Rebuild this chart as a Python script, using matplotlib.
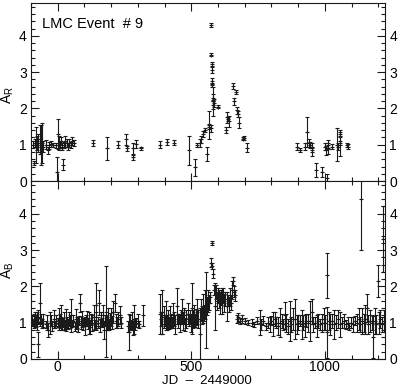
import matplotlib
matplotlib.use("Agg")
import matplotlib.pyplot as plt
from matplotlib.ticker import MultipleLocator

# --- R band (upper panel): JD - 2449000, amplification, error ---
jd_r = [-92, -88, -85, -82, -79, -76, -72, -68, -64, -60, -56, -45, -38, -32,
        -25, -18, -8, -2, 0, 4, 8, 12, 16, 20, 22, 28, 33, 38, 44, 50, 55, 62,
        132, 183, 225, 255, 258, 280, 283, 292, 311, 382, 410, 435,
        491, 513, 520, 532, 538, 543, 550, 558, 565, 568, 572, 573, 575,
        576, 577, 578, 579, 580, 581, 583, 585, 600, 629, 633, 637, 642,
        656, 659, 668, 670, 673, 677, 692, 698, 710,
        895, 905, 925, 934, 940, 945, 950, 952, 966, 988, 1000, 1004, 1008,
        1010, 1012, 1025, 1045, 1050, 1055, 1057, 1058, 1082, 1087]
a_r = [1.00, 0.50, 1.05, 1.00, 1.10, 0.95, 1.05, 1.15, 1.00, 1.05, 0.95, 1.00,
       0.85, 0.98, 1.02, 1.00, 0.98, 0.25, 1.30, 1.05, 1.00, 1.10, 0.95, 0.45,
       1.00, 1.10, 1.05, 0.95, 1.05, 1.00, 1.10, 1.05,
       1.05, 0.90, 1.00, 1.15, 0.90, 0.90, 0.65, 1.02, 0.90, 1.00, 1.08, 1.05,
       0.85, 0.38, 1.00, 1.05, 1.15, 1.30, 1.40, 0.75, 1.50, 1.55, 1.45, 4.30,
       3.48, 3.22, 3.05, 2.75, 2.65, 2.30, 2.20, 2.10, 2.15, 2.05, 1.40, 1.75,
       1.70, 1.65, 2.62, 2.20, 2.45, 1.95, 1.85, 1.60, 1.16, 1.18, 0.92,
       0.95, 0.85, 0.95, 1.35, 1.05, 1.00, 0.95, 0.80, 0.30, 0.25, 0.95, 0.85,
       0.08, 1.00, 0.90, 0.95, 1.00, 0.95, 1.05, 1.30, 1.10, 1.00, 0.95]
e_r = [0.10, 0.06, 0.12, 0.50, 0.15, 0.10, 0.25, 0.40, 0.55, 0.55, 0.15, 0.12,
       0.10, 0.10, 0.08, 0.06, 0.08, 0.40, 0.42, 0.20, 0.10, 0.12, 0.10, 0.15,
       0.08, 0.15, 0.10, 0.10, 0.12, 0.08, 0.10, 0.08,
       0.08, 0.32, 0.10, 0.15, 0.06, 0.15, 0.06, 0.10, 0.05, 0.10, 0.08, 0.07,
       0.40, 0.23, 0.06, 0.10, 0.10, 0.08, 0.06, 0.20, 0.08, 0.38, 0.10, 0.05,
       0.05, 0.06, 0.08, 0.08, 0.06, 0.10, 0.40, 0.12, 0.10, 0.05, 0.08, 0.15,
       0.06, 0.15, 0.08, 0.10, 0.06, 0.10, 0.08, 0.15, 0.04, 0.05, 0.12,
       0.10, 0.06, 0.10, 0.40, 0.10, 0.08, 0.10, 0.12, 0.20, 0.15, 0.10, 0.12,
       0.10, 0.12, 0.15, 0.08, 0.45, 0.10, 0.35, 0.06, 0.12, 0.06, 0.06]

# --- B band (lower panel) ---
jd_b = [-95, -92, -90, -87, -85, -82, -80, -77, -75, -72, -68, -65, -62, -58,
        -55, -45, -40, -35, -30, -25, -20, -15, -10, -5, 0, 3, 6, 9, 12, 15,
        18, 22, 26, 30, 34, 38, 42, 46, 51, 55, 59, 63, 67, 71, 75, 79, 82,
        86, 90, 94, 98, 102, 106, 110, 114, 118, 122, 126, 130, 134, 138, 142,
        145, 149, 153, 157, 161, 165, 169, 173, 177, 180, 184, 188, 192, 196,
        200, 204, 208, 213, 217, 221, 226, 232, 236, 262, 266, 270, 274, 278,
        282, 286, 290, 294, 300, 306, 320,
        382, 386, 389, 392, 396, 400, 404, 408, 412, 416, 420, 424, 428, 432,
        436, 440, 445, 449, 453, 457, 461, 466, 470, 474, 478, 482, 486, 490,
        494, 498, 502, 506, 510, 514, 518, 522, 526, 531, 535, 539, 543, 547,
        551, 555, 559, 563, 566, 570, 574, 577, 578, 581, 584, 588, 592, 596,
        600, 604, 608, 612, 616, 620, 624, 628, 633, 637, 641, 645, 649, 653,
        656, 660, 664, 670, 676, 682, 688,
        700, 712, 726, 735, 745, 757, 762, 770, 778, 786, 795, 800, 806, 812,
        818, 825, 831, 838, 845, 850, 856, 862, 869, 875, 881, 888, 894, 900,
        906, 913, 919, 925, 931, 938, 944, 950, 955, 962, 970, 976, 983, 990,
        996, 1000, 1007, 1008, 1014, 1020, 1027, 1035, 1042, 1049, 1056, 1063,
        1070, 1078, 1085, 1092, 1098, 1105, 1112, 1120, 1126, 1132, 1135, 1140,
        1145, 1150, 1157, 1163, 1170, 1176, 1180, 1186, 1192, 1198, 1202, 1208,
        1214, 1218, 1221]
a_b = [1.05, 1.00, 1.10, 0.95, 1.08, 1.12, 1.00, 1.05, 0.40, 1.15, 1.02, 1.55,
       1.10, 0.98, 1.05, 0.95, 1.00, 0.80, 1.00, 1.05, 0.90, 1.10, 0.95, 1.05,
       1.00, 1.10, 0.98, 1.05, 1.15, 0.95, 1.00, 1.05, 0.92, 1.08, 1.00, 0.95,
       1.10, 1.02, 1.20, 0.98, 1.05, 0.90, 1.10, 1.00, 0.95, 1.05, 1.55, 1.00,
       1.10, 0.95, 1.02, 0.90, 1.05, 1.12, 0.98, 1.00, 0.88, 1.08, 1.00, 1.15,
       0.95, 1.05, 1.50, 1.00, 1.55, 0.92, 1.08, 1.00, 1.20, 0.80, 1.05, 1.30,
       1.00, 1.10, 0.95, 1.05, 1.15, 1.00, 1.30, 1.55, 1.05, 1.00, 1.10, 1.20,
       1.00, 0.90, 0.75, 1.00, 0.95, 1.05, 0.85, 1.10, 0.95, 1.00, 1.05, 0.95,
       1.20,
       1.25, 1.10, 1.30, 0.95, 1.15, 1.05, 1.20, 1.00, 1.10, 0.98, 1.15, 1.05,
       1.00, 1.20, 1.10, 0.95, 1.45, 1.05, 1.10, 1.00, 1.15, 1.30, 1.05, 1.20,
       0.95, 1.10, 1.25, 1.05, 1.15, 1.00, 1.40, 1.10, 1.20, 1.05, 1.15, 1.30,
       1.10, 0.70, 1.35, 1.20, 1.40, 1.25, 1.50, 1.35, 1.45, 1.60, 1.55, 1.70,
       2.65, 3.20, 2.55, 2.35, 1.90, 1.45, 1.85, 1.60, 1.75, 1.65, 1.55, 1.70,
       1.60, 1.75, 1.55, 1.65, 1.45, 1.60, 1.50, 1.70, 1.55, 1.90, 2.15, 1.85,
       1.75, 1.10, 1.15, 1.05, 1.10,
       1.05, 1.00, 1.00, 0.95, 1.05, 1.00, 0.95, 1.05, 0.90, 1.00, 0.95, 1.05,
       0.95, 1.10, 1.00, 0.90, 1.00, 1.05, 0.95, 1.20, 1.00, 0.90, 1.05, 0.95,
       1.10, 1.10, 0.95, 1.00, 1.05, 0.95, 1.00, 0.90, 1.05, 1.00, 1.05, 1.30,
       0.95, 1.00, 0.90, 1.05, 0.95, 1.00, 1.10, 1.00, 2.30, 0.73, 1.05, 0.95,
       1.05, 0.95, 1.00, 1.10, 0.95, 1.00, 1.05, 0.95, 1.00, 0.90, 1.00, 0.95,
       1.05, 1.00, 1.10, 0.95, 4.40, 1.05, 1.00, 1.10, 1.40, 0.95, 1.05, 1.00,
       0.60, 1.05, 0.95, 2.15, 1.00, 1.10, 0.95, 3.30, 1.05]
e_b = [0.12, 0.08, 0.15, 0.10, 0.20, 0.10, 0.12, 0.25, 0.35, 0.20, 0.10, 0.55,
       0.15, 0.12, 0.18, 0.10, 0.20, 0.20, 0.30, 0.15, 0.12, 0.25, 0.10, 0.15,
       0.12, 0.30, 0.10, 0.20, 0.35, 0.15, 0.12, 0.25, 0.10, 0.30, 0.15, 0.12,
       0.20, 0.18, 0.45, 0.10, 0.15, 0.12, 0.28, 0.15, 0.20, 0.12, 0.25, 0.18,
       0.22, 0.15, 0.10, 0.25, 0.15, 0.20, 0.15, 0.30, 0.20, 0.15, 0.22, 0.35,
       0.12, 0.25, 0.60, 0.15, 0.35, 0.18, 0.20, 0.12, 0.28, 0.25, 0.15, 1.25,
       0.20, 0.30, 0.15, 0.22, 0.25, 0.18, 0.30, 0.25, 0.20, 0.15, 0.18, 0.25,
       0.15, 0.15, 0.50, 0.20, 0.12, 0.25, 0.20, 0.40, 0.15, 0.12, 0.18, 0.10,
       0.28,
       0.55, 0.20, 0.60, 0.25, 0.30, 0.15, 0.40, 0.20, 0.25, 0.15, 0.30, 0.20,
       0.15, 0.35, 0.20, 0.25, 0.50, 0.20, 0.15, 0.25, 0.20, 0.35, 0.25, 0.20,
       0.18, 0.25, 0.30, 0.15, 0.20, 0.25, 0.70, 0.25, 0.30, 0.18, 0.22, 0.35,
       0.25, 0.70, 0.30, 0.25, 0.40, 0.20, 0.40, 1.05, 0.25, 0.30, 0.20, 0.15,
       0.12, 0.06, 0.08, 0.12, 0.15, 0.65, 0.20, 0.25, 0.20, 0.25, 0.30, 0.20,
       0.35, 0.20, 0.25, 0.20, 0.40, 0.15, 0.20, 0.25, 0.20, 0.25, 0.12, 0.15,
       0.15, 0.10, 0.12, 0.08, 0.10,
       0.08, 0.06, 0.10, 0.08, 0.10, 0.35, 0.15, 0.12, 0.10, 0.15, 0.20, 0.12,
       0.33, 0.20, 0.15, 0.25, 0.40, 0.20, 0.15, 0.38, 0.25, 0.20, 0.55, 0.20,
       0.30, 0.55, 0.25, 0.20, 0.15, 0.40, 0.20, 0.30, 0.18, 0.25, 0.55, 0.35,
       0.20, 0.15, 0.30, 0.20, 0.15, 0.25, 0.30, 0.20, 0.63, 0.70, 0.25, 0.30,
       0.20, 0.40, 0.20, 0.25, 0.35, 0.15, 0.20, 0.12, 0.15, 0.10, 0.15, 0.20,
       0.12, 0.25, 0.30, 0.20, 1.40, 0.35, 0.25, 0.40, 0.38, 0.25, 0.30, 0.20,
       0.57, 0.35, 0.25, 0.45, 0.30, 0.25, 0.20, 0.90, 0.30]

ink = "#1a1a1a"
plt.rcParams["font.family"] = "Liberation Sans"
plt.rcParams["font.size"] = 10

fig = plt.figure(figsize=(4.0, 3.86), dpi=100)
ax1 = fig.add_axes([0.0775, 0.531, 0.885, 0.461])
ax2 = fig.add_axes([0.0775, 0.070, 0.885, 0.461])

for ax, x, y, e in [(ax1, jd_r, a_r, e_r), (ax2, jd_b, a_b, e_b)]:
    ax.errorbar(x, y, yerr=e, fmt="+", ms=2.5, mew=0.8, color=ink,
                ecolor=ink, elinewidth=0.8, capsize=1.6, capthick=0.8)
    ax.set_xlim(-100, 1225)
    ax.set_ylim(0, 4.9)
    ax.xaxis.set_major_locator(MultipleLocator(500))
    ax.xaxis.set_minor_locator(MultipleLocator(100))
    ax.yaxis.set_major_locator(MultipleLocator(1))
    ax.yaxis.set_minor_locator(MultipleLocator(0.2))
    ax.tick_params(which="both", direction="in", top=True, right=True,
                   labelright=True, color=ink, width=0.8, labelsize=10, pad=3)
    ax.tick_params(which="major", length=6)
    ax.tick_params(which="minor", length=3)
    for s in ax.spines.values():
        s.set_linewidth(0.8)
        s.set_color(ink)

ax1.tick_params(labelbottom=False)
ax2.tick_params(axis="x", pad=1)

# axis titles placed directly in figure pixels, as in the original
fig.text(8 / 400, 1 - 95 / 386, "A$_\\mathregular{R}$", rotation=90,
         ha="center", va="center")
fig.text(8 / 400, 1 - 270 / 386, "A$_\\mathregular{B}$", rotation=90,
         ha="center", va="center")
fig.text(207 / 400, 1 - 380.5 / 386, "JD  \u2013  2449000", ha="center",
         va="center", fontsize=9.5)
ax1.text(0.03, 0.88, "LMC Event  # 9", transform=ax1.transAxes,
         fontsize=10.5, va="center", ha="left")

fig.savefig("out.png", dpi=100)
